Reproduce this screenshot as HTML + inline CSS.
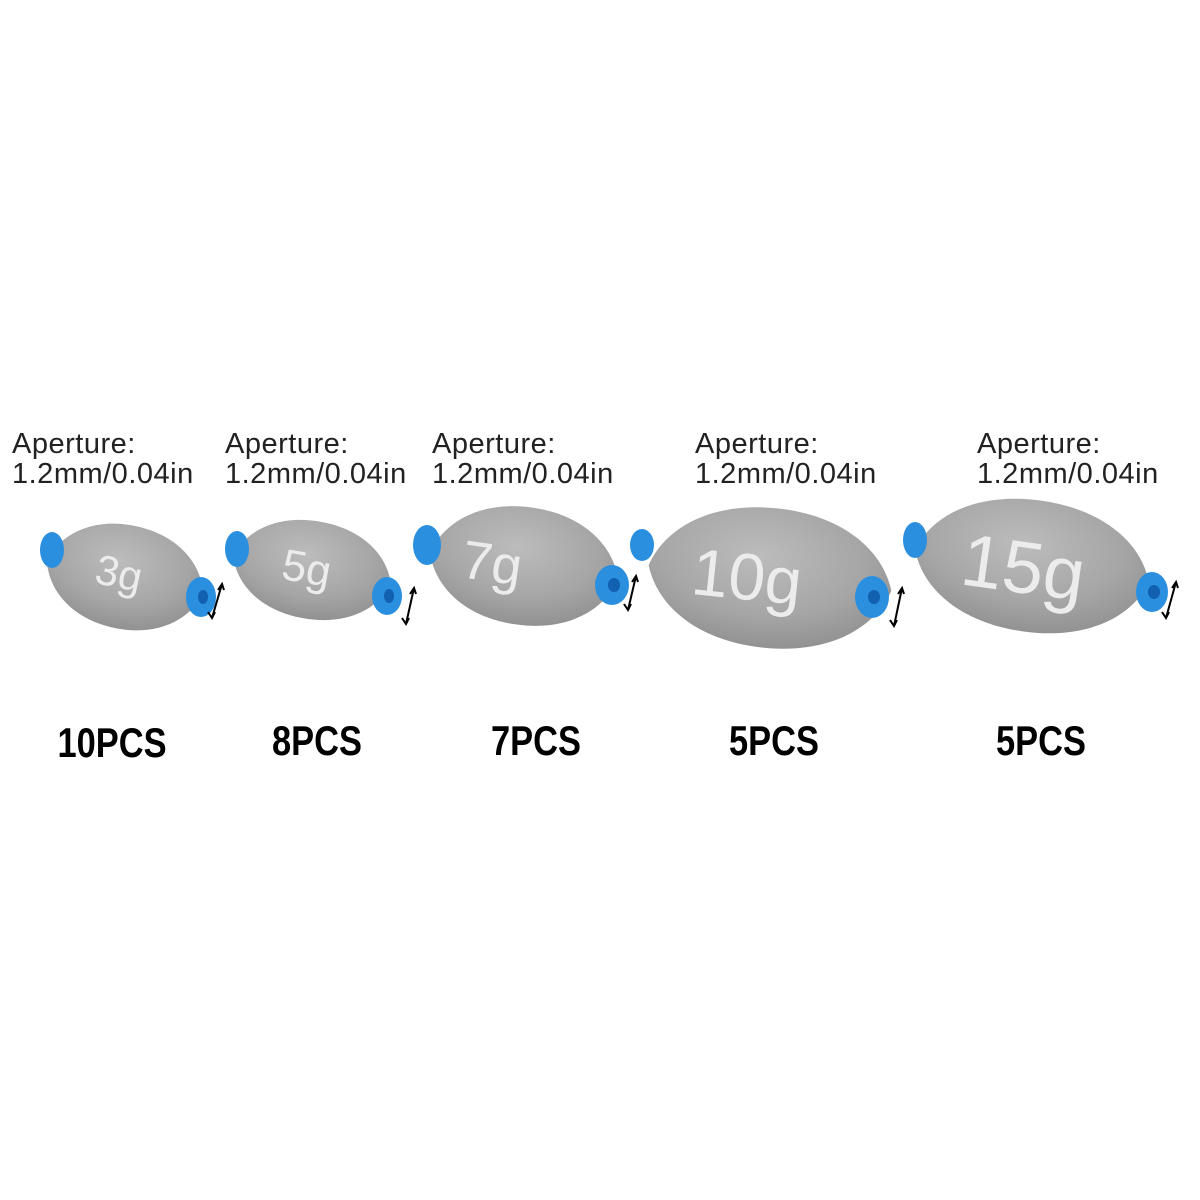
<!DOCTYPE html>
<html><head><meta charset="utf-8"><style>
html,body{margin:0;padding:0;background:#fff;}
svg{display:block}
.ap{font-family:"Liberation Sans",sans-serif;font-size:29px;fill:#222;letter-spacing:0.5px;}
.pc{font-family:"Liberation Sans",sans-serif;font-weight:bold;font-size:42px;fill:#000;}
.wt{font-family:"Liberation Sans",sans-serif;fill:#ececec;}
</style></head><body>
<svg width="1200" height="1200" viewBox="0 0 1200 1200">
<defs>
<radialGradient id="g" cx="0.45" cy="0.35" r="0.7">
<stop offset="0" stop-color="#bcbcbc"/><stop offset="0.6" stop-color="#a6a6a6"/><stop offset="1" stop-color="#8e8e8e"/>
</radialGradient>
<path id="lem" d="M-100 0 C-90 -55 -55 -100 0 -100 C55 -100 90 -55 100 0 C90 55 55 100 0 100 C-55 100 -90 55 -100 0Z"/>
</defs>
<rect width="1200" height="1200" fill="#fff"/>

<g class="ap">
<text x="12" y="453">Aperture:</text><text x="12" y="483">1.2mm/0.04in</text>
<text x="225" y="453">Aperture:</text><text x="225" y="483">1.2mm/0.04in</text>
<text x="432" y="453">Aperture:</text><text x="432" y="483">1.2mm/0.04in</text>
<text x="695" y="453">Aperture:</text><text x="695" y="483">1.2mm/0.04in</text>
<text x="977" y="453">Aperture:</text><text x="977" y="483">1.2mm/0.04in</text>
</g>

<!-- sinker 1 -->
<g transform="translate(125,577) rotate(12)">
<use href="#lem" transform="scale(0.8,0.52)" fill="url(#g)"/>
<text class="wt" x="-30" y="12" font-size="42">3g</text>
</g>
<ellipse cx="52" cy="550" rx="12" ry="18" fill="#2b8fe0"/>
<ellipse cx="201" cy="597" rx="15" ry="20" fill="#2b8fe0"/><ellipse cx="203" cy="597" rx="5" ry="7" fill="#1260b0"/>
<path d="M222 584 L212 618 M218 590 l4 -6 l2 6 M208 612 l4 6 l3 -6" stroke="#000" stroke-width="2" fill="none"/>

<!-- sinker 2 -->
<g transform="translate(312,570) rotate(10)">
<use href="#lem" transform="scale(0.8,0.49)" fill="url(#g)"/>
<text class="wt" x="-30" y="14" font-size="44">5g</text>
</g>
<ellipse cx="237" cy="549" rx="12" ry="18" fill="#2b8fe0"/>
<ellipse cx="387" cy="596" rx="15" ry="19" fill="#2b8fe0"/><ellipse cx="389" cy="596" rx="5" ry="7" fill="#1260b0"/>
<path d="M414 588 L406 624 M410 594 l4 -6 l2 6 M402 618 l4 6 l3 -6" stroke="#000" stroke-width="2" fill="none"/>

<!-- sinker 3 -->
<g transform="translate(524,566) rotate(8)">
<use href="#lem" transform="scale(0.95,0.59)" fill="url(#g)"/>
<text class="wt" x="-62" y="20" font-size="54">7g</text>
</g>
<ellipse cx="427" cy="545" rx="14" ry="20" fill="#2b8fe0"/>
<ellipse cx="612" cy="585" rx="17" ry="20" fill="#2b8fe0"/><ellipse cx="614" cy="585" rx="6" ry="7" fill="#1260b0"/>
<path d="M636 576 L628 610 M632 582 l4 -6 l2 6 M624 604 l4 6 l3 -6" stroke="#000" stroke-width="2" fill="none"/>

<!-- sinker 4 -->
<g transform="translate(770,578) rotate(6)">
<use href="#lem" transform="scale(1.22,0.7)" fill="url(#g)"/>
<text class="wt" x="-78" y="24" font-size="66">10g</text>
</g>
<ellipse cx="642" cy="545" rx="12" ry="16" fill="#2b8fe0"/>
<ellipse cx="872" cy="597" rx="17" ry="21" fill="#2b8fe0"/><ellipse cx="874" cy="597" rx="6" ry="7" fill="#1260b0"/>
<path d="M902 588 L894 626 M898 594 l4 -6 l2 6 M890 620 l4 6 l3 -6" stroke="#000" stroke-width="2" fill="none"/>

<!-- sinker 5 -->
<g transform="translate(1032,566) rotate(8)">
<use href="#lem" transform="scale(1.18,0.66)" fill="url(#g)"/>
<text class="wt" x="-70" y="28" font-size="74">15g</text>
</g>
<ellipse cx="915" cy="540" rx="12" ry="18" fill="#2b8fe0"/>
<ellipse cx="1152" cy="592" rx="16" ry="20" fill="#2b8fe0"/><ellipse cx="1154" cy="592" rx="6" ry="7" fill="#1260b0"/>
<path d="M1176 582 L1166 618 M1172 588 l4 -6 l2 6 M1162 612 l4 6 l3 -6" stroke="#000" stroke-width="2" fill="none"/>

<g class="pc" text-anchor="middle">
<text transform="translate(112,757) scale(0.82,1)">10PCS</text>
<text transform="translate(317,755) scale(0.82,1)">8PCS</text>
<text transform="translate(536,755) scale(0.82,1)">7PCS</text>
<text transform="translate(774,755) scale(0.82,1)">5PCS</text>
<text transform="translate(1041,755) scale(0.82,1)">5PCS</text>
</g>
</svg>
</body></html>
